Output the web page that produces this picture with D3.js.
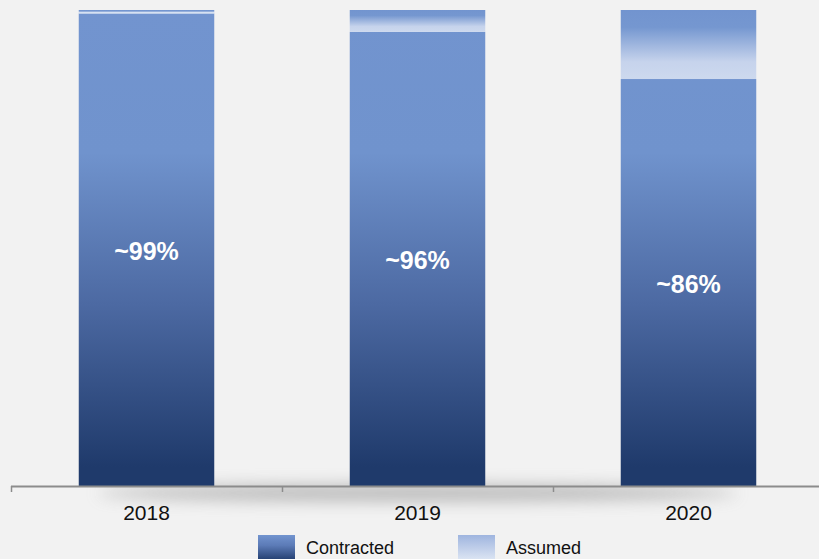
<!DOCTYPE html>
<html>
<head>
<meta charset="utf-8">
<script src="https://cdn.jsdelivr.net/npm/d3@7"></script>
<style>
  body { margin: 0; background: #f2f2f2; }
  svg { display: block; font-family: Arial, "Liberation Sans", sans-serif; }
</style>
</head>
<body>
<div id="chart"></div>
<script>
// chart data
const years = ["2018", "2019", "2020"]
const contracted = [99.3, 95.4, 85.5]
const assumed = [0.7, 4.6, 14.5]
const barLabels = ["~99%", "~96%", "~86%"]
const seriesNames = ["Contracted", "Assumed"]

const width = 819
const height = 559
const margin = {top: 10, right: -5, bottom: 73, left: 11}

const svg = d3.select("#chart")
  .append("svg")
  .attr("width", width)
  .attr("height", height)

svg.append("rect")
  .attr("width", width)
  .attr("height", height)
  .attr("fill", "#f2f2f2")

const defs = svg.append("defs")

// gradients for the bars and legend
const gContr = defs.append("linearGradient")
  .attr("id", "gContr").attr("x1", 0).attr("x2", 0)
  .attr("gradientUnits", "userSpaceOnUse")
  .attr("y1", margin.top).attr("y2", height - margin.bottom)
gContr.append("stop").attr("offset", 0).attr("stop-color", "#7294cf")
gContr.append("stop").attr("offset", 0.3).attr("stop-color", "#7093cd")
gContr.append("stop").attr("offset", 0.62).attr("stop-color", "#4c69a2")
gContr.append("stop").attr("offset", 0.96).attr("stop-color", "#1f3a6b")
gContr.append("stop").attr("offset", 1).attr("stop-color", "#1f3a6b")

const gAssum = defs.append("linearGradient")
  .attr("id", "gAssum").attr("x1", 0).attr("y1", 0).attr("x2", 0).attr("y2", 1)
gAssum.append("stop").attr("offset", 0).attr("stop-color", "#7294cf")
gAssum.append("stop").attr("offset", 0.25).attr("stop-color", "#7597d0")
gAssum.append("stop").attr("offset", 0.75).attr("stop-color", "#c6d3ec")
gAssum.append("stop").attr("offset", 1).attr("stop-color", "#cdd9ee")

const gLegC = defs.append("linearGradient")
  .attr("id", "gLegC").attr("x1", 0).attr("y1", 0).attr("x2", 0).attr("y2", 1)
gLegC.append("stop").attr("offset", 0).attr("stop-color", "#7294cf")
gLegC.append("stop").attr("offset", 0.4).attr("stop-color", "#5c7bb7")
gLegC.append("stop").attr("offset", 1).attr("stop-color", "#1f3a6b")

const gLegA = defs.append("linearGradient")
  .attr("id", "gLegA").attr("x1", 0).attr("y1", 0).attr("x2", 0).attr("y2", 1)
gLegA.append("stop").attr("offset", 0).attr("stop-color", "#9fb5df")
gLegA.append("stop").attr("offset", 1).attr("stop-color", "#dfe7f4")

const blur = defs.append("filter").attr("id", "blur")
  .attr("x", "-20%").attr("y", "-200%").attr("width", "140%").attr("height", "500%")
blur.append("feGaussianBlur").attr("stdDeviation", 8)

// scales
const x = d3.scaleBand()
  .domain(years)
  .range([margin.left, width - margin.right])
  .paddingInner(0)
  .paddingOuter(0)

const y = d3.scaleLinear()
  .domain([0, 100])
  .range([height - margin.bottom, margin.top])

const barW = x.bandwidth() * 0.5

// soft shadow under the axis
svg.append("ellipse")
  .attr("cx", x("2019") + x.bandwidth() / 2)
  .attr("cy", y(0) + 7)
  .attr("rx", 320)
  .attr("ry", 8)
  .attr("fill", "#8f8f8f")
  .attr("opacity", 0.6)
  .attr("filter", "url(#blur)")

const rows = years.map((yr, i) => ({year: yr, c: contracted[i], a: assumed[i], label: barLabels[i]}))

const bars = svg.append("g")
  .selectAll("g")
  .data(rows)
  .join("g")
  .attr("transform", d => `translate(${x(d.year) + (x.bandwidth() - barW) / 2},0)`)

bars.append("rect")
  .attr("x", 0)
  .attr("y", d => y(d.c))
  .attr("width", barW)
  .attr("height", d => y(0) - y(d.c))
  .attr("fill", "url(#gContr)")

bars.append("rect")
  .attr("x", 0)
  .attr("y", d => y(d.c + d.a))
  .attr("width", barW)
  .attr("height", d => y(d.c) - y(d.c + d.a))
  .attr("fill", "url(#gAssum)")

// thin light line between segments on the first bar
bars.append("line")
  .attr("x1", 0).attr("x2", barW)
  .attr("y1", d => y(d.c) - 0.5).attr("y2", d => y(d.c) - 0.5)
  .attr("stroke", "#dfe7f5")
  .attr("stroke-width", 1)
  .attr("opacity", (d, i) => i === 0 ? 1 : 0)

bars.append("text")
  .attr("x", barW / 2)
  .attr("y", d => (y(d.c) + y(0)) / 2 + 10)
  .attr("text-anchor", "middle")
  .attr("fill", "#ffffff")
  .attr("font-size", 25)
  .attr("font-weight", "bold")
  .text(d => d.label)

// axis
const axis = svg.append("g")
  .attr("transform", `translate(0,${y(0)})`)
  .call(d3.axisBottom(x).tickSize(0).tickPadding(19))

axis.select(".domain").remove()
axis.append("line")
  .attr("x1", margin.left).attr("x2", width)
  .attr("y1", 0.5).attr("y2", 0.5)
  .attr("stroke", "#8c8c8c")
  .attr("stroke-width", 2)

axis.selectAll(".bnd")
  .data(years)
  .join("line")
  .attr("x1", d => x(d) + 0.5).attr("x2", d => x(d) + 0.5)
  .attr("y1", 0).attr("y2", 6)
  .attr("stroke", "#8c8c8c")
  .attr("stroke-width", 1.5)

axis.selectAll(".tick text")
  .attr("font-size", 21)
  .attr("fill", "#111")
  .attr("font-family", "Arial, 'Liberation Sans', sans-serif")

// legend
const legend = svg.append("g")
const legItems = [
  {name: seriesNames[0], fill: "url(#gLegC)", x: 258},
  {name: seriesNames[1], fill: "url(#gLegA)", x: 458}
]
legend.selectAll("rect")
  .data(legItems)
  .join("rect")
  .attr("x", d => d.x)
  .attr("y", 535)
  .attr("width", 37)
  .attr("height", 26)
  .attr("fill", d => d.fill)

legend.selectAll("text")
  .data(legItems)
  .join("text")
  .attr("x", d => d.x + 48)
  .attr("y", 554)
  .attr("font-size", 18)
  .attr("fill", "#111")
  .text(d => d.name)
</script>
</body>
</html>
